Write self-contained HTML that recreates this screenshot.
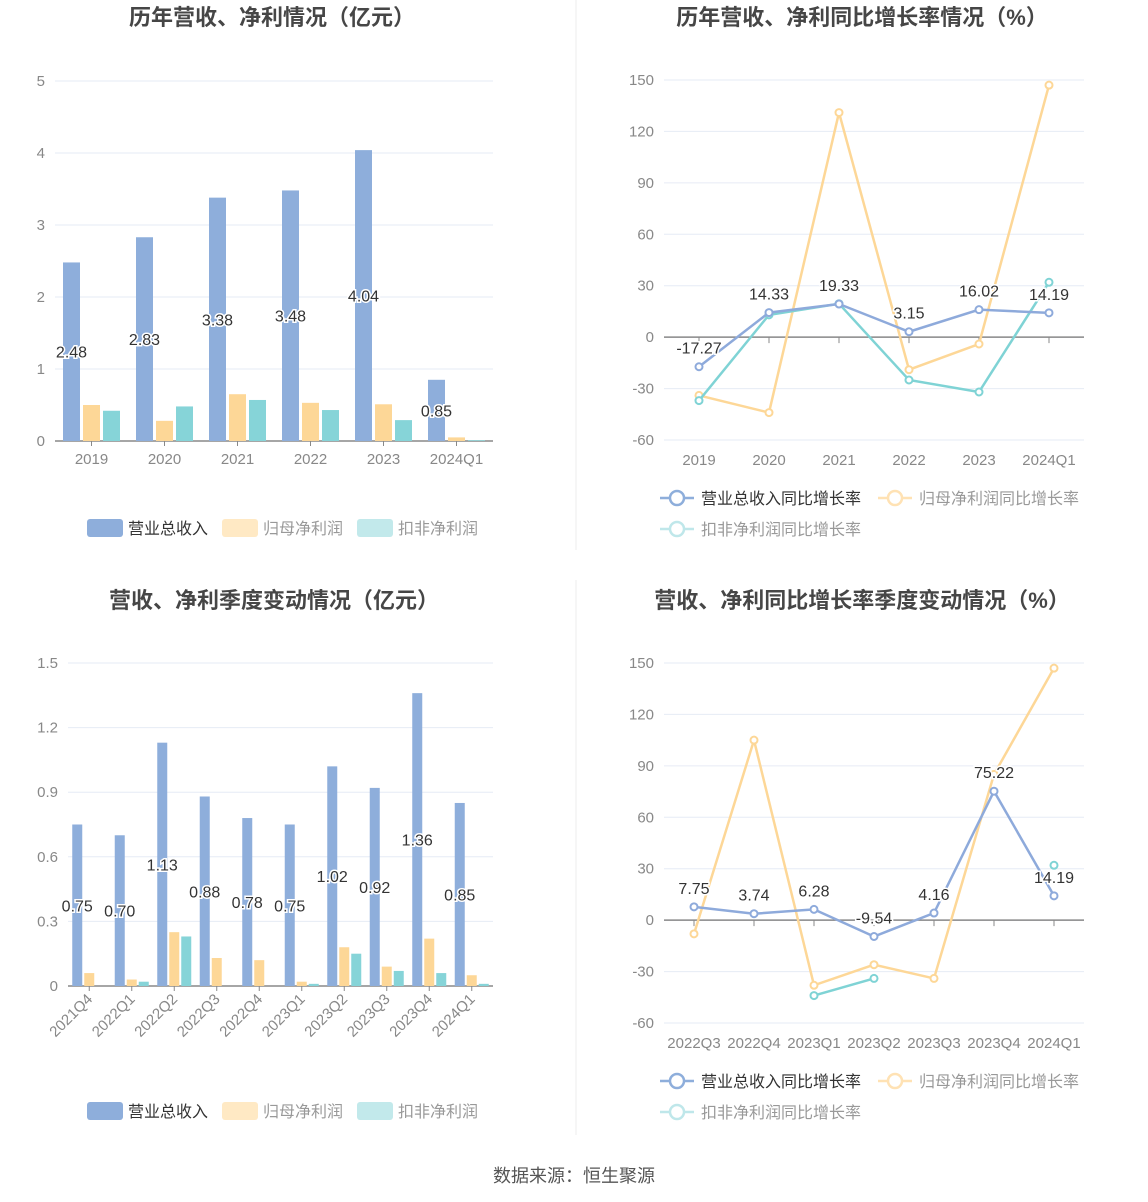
<!DOCTYPE html>
<html><head><meta charset="utf-8"><style>
body{margin:0;background:#fff;}
svg{display:block;font-family:"Liberation Sans","Noto Sans CJK SC",sans-serif;}
</style></head><body>
<svg id="s" width="1148" height="1202" viewBox="0 0 1148 1202">
<line x1="576" y1="0" x2="576" y2="550" stroke="#eee"/>
<line x1="576" y1="580" x2="576" y2="1135" stroke="#eee"/>
<text x="272" y="25" text-anchor="middle" font-size="22" font-weight="bold" fill="#464646">历年营收、净利情况（亿元）</text>
<text x="862" y="25" text-anchor="middle" font-size="22" font-weight="bold" fill="#464646">历年营收、净利同比增长率情况（%）</text>
<text x="274" y="608" text-anchor="middle" font-size="22" font-weight="bold" fill="#464646">营收、净利季度变动情况（亿元）</text>
<text x="862" y="608" text-anchor="middle" font-size="22" font-weight="bold" fill="#464646">营收、净利同比增长率季度变动情况（%）</text>
<text x="574" y="1182" text-anchor="middle" font-size="18" fill="#555">数据来源：恒生聚源</text>
</svg>
<script>
const annualCats=["2019","2020","2021","2022","2023","2024Q1"];
const annualRevenue=[2.48,2.83,3.38,3.48,4.04,0.85];
const annualNet=[0.50,0.28,0.65,0.53,0.51,0.05];
const annualDeducted=[0.42,0.48,0.57,0.43,0.29,0.01];
const annualTicks=[0,1,2,3,4,5];

const growthCats=["2019","2020","2021","2022","2023","2024Q1"];
const growthRevenue=[-17.27,14.33,19.33,3.15,16.02,14.19];
const growthNet=[-34,-44,131,-19,-4,147];
const growthDeducted=[-37,13,19.5,-25,-32,32];
const growthTicks=[-60,-30,0,30,60,90,120,150];

const qCats=["2021Q4","2022Q1","2022Q2","2022Q3","2022Q4","2023Q1","2023Q2","2023Q3","2023Q4","2024Q1"];
const qRevenue=[0.75,0.70,1.13,0.88,0.78,0.75,1.02,0.92,1.36,0.85];
const qNet=[0.06,0.03,0.25,0.13,0.12,0.02,0.18,0.09,0.22,0.05];
const qDeducted=[null,0.02,0.23,null,null,0.01,0.15,0.07,0.06,0.01];
const qTicks=[0,0.3,0.6,0.9,1.2,1.5];

const qgCats=["2022Q3","2022Q4","2023Q1","2023Q2","2023Q3","2023Q4","2024Q1"];
const qgRevenue=[7.75,3.74,6.28,-9.54,4.16,75.22,14.19];
const qgNet=[-8,105,-38,-26,-34,85,147];
const qgDeducted=[null,null,-44,-34,null,null,32];
const qgTicks=[-60,-30,0,30,60,90,120,150];

const BLUE="#8eaedb",YEL="#fdd797",TEAL="#86d4d8";
const svg=document.getElementById('s');
const NS="http://www.w3.org/2000/svg";
function mk(tag,attrs,parent){const e=document.createElementNS(NS,tag);for(const k in attrs)e.setAttribute(k,attrs[k]);(parent||svg).appendChild(e);return e;}

function axes(g,x0,x1,y,ticks,fmt,zeroY){
  ticks.forEach(t=>{
    const yy=y(t);
    const gl=mk('line',{x1:x0,x2:x1,y1:yy,y2:yy,stroke:'#e6ebf5'},g);
    
    
    const tl=mk('text',{x:x0-10,y:yy+5,'text-anchor':'end','font-size':15,fill:'#888'},g);
    tl.textContent=fmt(t);
    
    
  });
  const ax=mk('line',{x1:x0,x2:x1,y1:zeroY,y2:zeroY,stroke:'#888','stroke-width':1.5},g);
  
  
}

function barChart(name,cats,series,ticks,x0,x1,yTop,yBot,vmax,barW,gap,rotate){
  const g=mk('g',{});
  
  
  const y=v=>yBot-(v/vmax)*(yBot-yTop);
  axes(g,x0,x1,y,ticks,t=>String(t),yBot);
  const band=(x1-x0)/cats.length;
  const groupW=series.length*barW+(series.length-1)*gap;
  cats.forEach((c,i)=>{
    const cx=x0+band*(i+0.5);
    const tk=mk('line',{x1:cx,x2:cx,y1:yBot,y2:yBot+5,stroke:'#888'},g);
    
    
    let lbl;
    if(rotate){
      lbl=mk('text',{x:cx+4,y:yBot+14,'text-anchor':'end','font-size':15,fill:'#888',transform:`rotate(-45 ${cx+4} ${yBot+14})`},g);
    }else{
      lbl=mk('text',{x:cx,y:yBot+23,'text-anchor':'middle','font-size':15,fill:'#888'},g);
    }
    lbl.textContent=c;
    
    
    series.forEach((s,j)=>{
      const v=s.data[i];
      if(v==null)return;
      const bx=cx-groupW/2+j*(barW+gap);
      const r=mk('rect',{x:bx,y:y(v),width:barW,height:yBot-y(v),fill:s.color},g);
      
      
      if(s.label){
        const t=mk('text',{x:bx+barW/2,y:(y(v)+yBot)/2+6,'text-anchor':'middle','font-size':16,fill:'#333',stroke:'#fff','stroke-width':3,'paint-order':'stroke'},g);
        t.textContent=v.toFixed(2);
        
        
      }
    });
  });
}

function lineChart(name,cats,series,ticks,x0,x1,yTop,yBot,vmin,vmax){
  const g=mk('g',{});
  
  
  const y=v=>yBot-(v-vmin)/(vmax-vmin)*(yBot-yTop);
  axes(g,x0,x1,y,ticks,t=>String(t),y(0));
  const band=(x1-x0)/cats.length;
  const X=i=>x0+band*(i+0.5);
  cats.forEach((c,i)=>{
    const tk=mk('line',{x1:X(i),x2:X(i),y1:y(0),y2:y(0)+6,stroke:'#888'},g);
    
    
    const l=mk('text',{x:X(i),y:yBot+25,'text-anchor':'middle','font-size':15,fill:'#888'},g);
    l.textContent=c;
    
    
  });
  series.forEach(s=>{
    let seg=[];
    const segs=[];
    s.data.forEach((v,i)=>{if(v==null){if(seg.length)segs.push(seg);seg=[];}else seg.push([X(i),y(v)]);});
    if(seg.length)segs.push(seg);
    segs.forEach(sg=>{
      if(sg.length<2)return;
      const p=mk('polyline',{points:sg.map(q=>q.join(',')).join(' '),fill:'none',stroke:s.color,'stroke-width':2.5},g);
      
      
    });
    s.data.forEach((v,i)=>{
      if(v==null)return;
      const c=mk('circle',{cx:X(i),cy:y(v),r:3.5,fill:'#fff',stroke:s.color,'stroke-width':2},g);
      
      
      if(s.label){
        const t=mk('text',{x:X(i),y:y(v)-13,'text-anchor':'middle','font-size':16,fill:'#333',stroke:'#fff','stroke-width':3,'paint-order':'stroke'},g);
        t.textContent=v.toFixed(2);
        
        
      }
    });
  });
}

function barLegend(cx,yy){
  const items=[["营业总收入",BLUE,"#333"],["归母净利润",YEL,"#999"],["扣非净利润",TEAL,"#999"]];
  let x=cx-192;
  items.forEach(([t,c,tc],i)=>{
    const g=mk('g',{});
    
    
    mk('rect',{x:x,y:yy-9,width:36,height:18,rx:3,fill:i?({1:'#ffe9c4',2:'#c2e9eb'})[i]:c},g);
    const tx=mk('text',{x:x+41,y:yy+6,'font-size':16,fill:tc},g);
    tx.textContent=t;
    x+=135;
  });
}
function lineLegend(x0,yy){
  const items=[["营业总收入同比增长率",BLUE,"#333",x0,yy],["归母净利润同比增长率","#ffe2b4","#999",x0+218,yy],["扣非净利润同比增长率","#bfe7ea","#999",x0,yy+31]];
  items.forEach(([t,c,tc,x,y])=>{
    const g=mk('g',{});
    
    
    mk('line',{x1:x,x2:x+34,y1:y,y2:y,stroke:c,'stroke-width':2.5},g);
    mk('circle',{cx:x+17,cy:y,r:7,fill:'#fff',stroke:c,'stroke-width':2.5},g);
    const tx=mk('text',{x:x+41,y:y+6,'font-size':16,fill:tc},g);
    tx.textContent=t;
  });
}

barChart('annual-revenue-chart',annualCats,[
  {key:'revenue',data:annualRevenue,color:BLUE,label:true},
  {key:'net-profit',data:annualNet,color:YEL},
  {key:'deducted-profit',data:annualDeducted,color:TEAL}],annualTicks,55,493,81,441,5,17,3,false);
lineChart('annual-growth-chart',growthCats,[
  {key:'net-growth',data:growthNet,color:'#fdd797'},
  {key:'deducted-growth',data:growthDeducted,color:'#7fd3d5'},
  {key:'revenue-growth',data:growthRevenue,color:'#8eaadb',label:true}],growthTicks,664,1084,80,440,-60,150);
barChart('quarterly-revenue-chart',qCats,[
  {key:'revenue',data:qRevenue,color:BLUE,label:true},
  {key:'net-profit',data:qNet,color:YEL},
  {key:'deducted-profit',data:qDeducted,color:TEAL}],qTicks,68,493,663,986,1.5,10,2,true);
lineChart('quarterly-growth-chart',qgCats,[
  {key:'net-growth',data:qgNet,color:'#fdd797'},
  {key:'deducted-growth',data:qgDeducted,color:'#7fd3d5'},
  {key:'revenue-growth',data:qgRevenue,color:'#8eaadb',label:true}],qgTicks,664,1084,663,1023,-60,150);

barLegend(279,528);
barLegend(279,1111);
lineLegend(660,498);
lineLegend(660,1081);
</script>
</body></html>
